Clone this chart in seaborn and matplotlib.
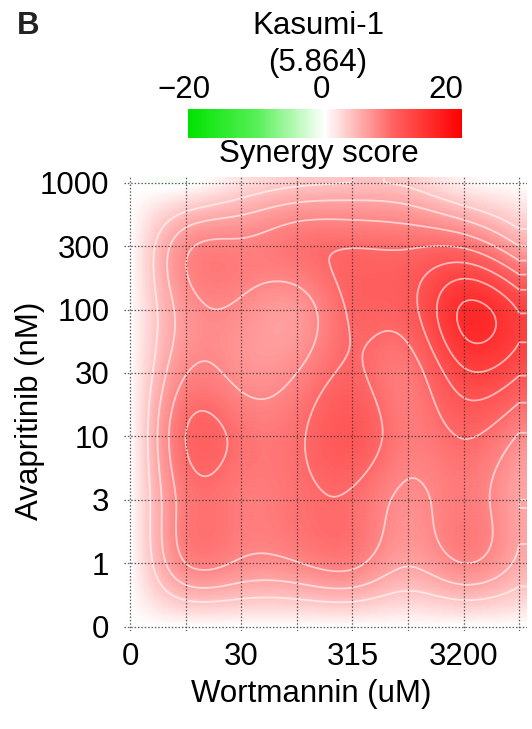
import numpy as np
import matplotlib
matplotlib.use("Agg")
import matplotlib.pyplot as plt
import seaborn as sns
from matplotlib.colors import LinearSegmentedColormap, Normalize
from matplotlib.colorbar import ColorbarBase

# ---------------- data ----------------
wortmannin_doses = ["0", "10", "30", "100", "315", "1000", "3200", "10000"]
x_tick_labels = ["0", "", "30", "", "315", "", "3200", ""]
avapritinib_doses = ["0", "1", "3", "10", "30", "100", "300", "1000"]

# synergy scores: one list per Avapritinib dose (low -> high), across Wortmannin doses
syn_ava_0 = [0, 0, 0, 0, 0, 0, 0, 0]
syn_ava_1 = [0, 8.0, 7.7, 7.9, 8.5, 6.2, 8.0, 5.5]
syn_ava_3 = [0, 8.9, 8.8, 9.4, 9.7, 7.6, 8.8, 6.0]
syn_ava_10 = [0, 10.0, 9.4, 9.6, 11.5, 8.8, 10.1, 7.8]
syn_ava_30 = [0, 7.9, 7.4, 8.0, 10.3, 9.0, 13.6, 12.2]
syn_ava_100 = [0, 7.0, 7.6, 6.9, 10.3, 11.2, 16.3, 13.8]
syn_ava_300 = [0, 7.5, 8.4, 9.3, 9.9, 9.8, 9.7, 6.0]
syn_ava_1000 = [0, -0.5, 2.0, 3.5, 4.0, 3.5, 0.8, 0.0]

cell_line = "Kasumi-1"
summary_score = "(5.864)"
contour_levels = [4, 6, 8, 10, 12, 14, 16]
cbar_ticks = [-20, -10, 0, 10, 20]

Z = np.array([syn_ava_0, syn_ava_1, syn_ava_3, syn_ava_10,
              syn_ava_30, syn_ava_100, syn_ava_300, syn_ava_1000], dtype=float)
n = Z.shape[0]


def natural_spline_weights(npts, t):
    t = np.clip(t, 0, npts - 1)
    A = np.zeros((npts, npts))
    A[0, 0] = 1
    A[-1, -1] = 1
    for i in range(1, npts - 1):
        A[i, i - 1] = 1
        A[i, i] = 4
        A[i, i + 1] = 1
    Ainv = np.linalg.inv(A)
    idx = np.minimum(np.floor(t).astype(int), npts - 2)
    u = t - idx
    W = np.zeros((len(t), npts))
    for k in range(npts):
        y = np.zeros(npts)
        y[k] = 1
        rhs = np.zeros(npts)
        rhs[1:-1] = 6 * (y[:-2] - 2 * y[1:-1] + y[2:])
        m = Ainv @ rhs
        W[:, k] = ((1 - u) * y[idx] + u * y[idx + 1]
                   + ((1 - u) ** 3 - (1 - u)) * m[idx] / 6
                   + (u ** 3 - u) * m[idx + 1] / 6)
    return W


# ---------------- figure ----------------
W_PX, H_PX = 532, 729
sns.set_style("white")
plt.rcParams["font.family"] = ["Liberation Sans", "DejaVu Sans"]
plt.rcParams["text.color"] = "black"
fig = plt.figure(figsize=(W_PX / 100, H_PX / 100), dpi=100)

L, R, T, B = 124, 527, 177, 631
ax = fig.add_axes([L / W_PX, 1 - B / H_PX, (R - L) / W_PX, (B - T) / H_PX])

xlo, xhi = (L - 130) / 55.6, (R - 130) / 55.6
ylo, yhi = (626.5 - B) / 63.4, (626.5 - T) / 63.4
Nx, Ny = 360, 400
dx = (xhi - xlo) / Nx
dy = (yhi - ylo) / Ny
xc = xlo + (np.arange(Nx) + 0.5) * dx
yc = yhi - (np.arange(Ny) + 0.5) * dy
Wx = natural_spline_weights(n, xc)
Wy = natural_spline_weights(n, yc)
Zf = Wy @ Z @ Wx.T

vlim = 21.1
cmap = LinearSegmentedColormap.from_list(
    "syn",
    [(0.0, (0.0, 0.89, 0.0)),
     (0.25, (0.34, 0.94, 0.34)),
     (0.5, (1.0, 1.0, 1.0)),
     (0.75, (1.0, 0.38, 0.38)),
     (1.0, (1.0, 0.0, 0.0))])

sns.heatmap(Zf, ax=ax, cmap=cmap, vmin=-vlim, vmax=vlim, cbar=False,
            xticklabels=False, yticklabels=False, rasterized=True)

HX = np.arange(Nx) + 0.5
HY = np.arange(Ny) + 0.5
ax.contour(HX, HY, Zf, levels=contour_levels, colors="white",
           linewidths=1.3, alpha=0.6)

xt = (np.arange(n) - xlo) / dx
yt = (yhi - np.arange(n)) / dy
ax.set_xticks(xt)
ax.set_xticklabels(x_tick_labels)
ax.set_yticks(yt)
ax.set_yticklabels(avapritinib_doses, rotation=0)
ax.set_xlim(0, Nx)
ax.set_ylim(Ny, 0)

ax.grid(True, color="#333333", linestyle=(0, (1.2, 1.5)), linewidth=0.9, alpha=0.8)
ax.set_axisbelow(False)
for s in ax.spines.values():
    s.set_visible(False)
ax.tick_params(axis="both", length=4, width=1.2, color="#333333",
               labelsize=22.5, labelcolor="black")
ax.tick_params(axis="x", pad=4.0)
ax.tick_params(axis="y", pad=6.5)
ax.set_xlabel("")
ax.set_ylabel("")

# ---------------- colorbar ----------------
cax = fig.add_axes([188 / W_PX, 1 - 138 / H_PX, 274 / W_PX, 29 / H_PX])
cb = ColorbarBase(cax, cmap=cmap, norm=Normalize(-vlim, vlim), orientation="horizontal")
cb.outline.set_visible(False)
cax.set_xticks(cbar_ticks)
cax.xaxis.set_ticks_position("both")
cax.tick_params(axis="x", direction="in", length=3, width=1, color="white",
                labelbottom=False, labeltop=False)

# ---------------- texts ----------------
def ftext(x, y, s, **kw):
    fig.text(x / W_PX, 1 - y / H_PX, s, ha="center", va="center", **kw)

ftext(28, 26, "B", fontsize=22.5, fontweight="bold", color="#222222")
ftext(318, 26, cell_line, fontsize=22.5)
ftext(318, 62.5, summary_score, fontsize=22.5)
ftext(184, 90, "\u221220", fontsize=22.5)
ftext(321, 90, "0", fontsize=22.5)
ftext(446, 90, "20", fontsize=22.5)
ftext(319, 154, "Synergy score", fontsize=22.5)
ftext(311, 694, "Wortmannin (uM)", fontsize=22.5)
ftext(30, 411, "Avapritinib (nM)", fontsize=22.5, rotation=90)

fig.savefig("out.png", dpi=100)
